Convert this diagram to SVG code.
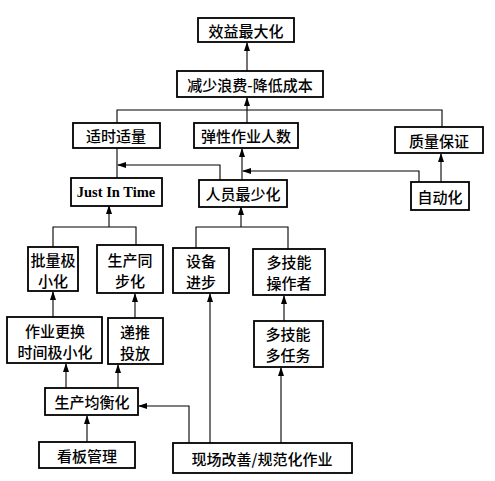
<svg xmlns="http://www.w3.org/2000/svg" width="495" height="481" viewBox="0 0 495 481">
<style>
.box{fill:#fff;stroke:#000;stroke-width:1.8}
.t{font-family:"Noto Sans CJK SC","Noto Sans",sans-serif;font-size:15px;font-weight:500;fill:#000;text-anchor:middle;dominant-baseline:central}
.e{font-family:"Liberation Serif",serif;font-size:14.5px;font-weight:bold;fill:#000;text-anchor:middle;dominant-baseline:central}
.c{fill:none;stroke:#000;stroke-width:1.1}
</style>
<defs>
<marker id="ah" markerUnits="userSpaceOnUse" markerWidth="9" markerHeight="6" refX="8" refY="3" orient="auto">
<path d="M0,0 L9,3 L0,6 z" fill="#000"/>
</marker>
</defs>
<rect width="495" height="481" fill="#fff"/>
<g id="connectors">
<path class="c" d="M247,71 L247,43" marker-end="url(#ah)"/>
<path class="c" d="M247,123 L247,98" marker-end="url(#ah)"/>
<path class="c" d="M117,123 L117,110 L442,110 L442,127"/>
<path class="c" d="M117,148 L117,178"/>
<path class="c" d="M220,180 L220,165 L118,165" marker-end="url(#ah)"/>
<path class="c" d="M242,180 L242,149" marker-end="url(#ah)"/>
<path class="c" d="M419,182 L419,171 L243,171" marker-end="url(#ah)"/>
<path class="c" d="M441,182 L441,154" marker-end="url(#ah)"/>
<path class="c" d="M53,247 L53,227 L136,227 L136,245"/>
<path class="c" d="M109,227 L109,206" marker-end="url(#ah)"/>
<path class="c" d="M196,248 L196,227 L288,227 L288,249"/>
<path class="c" d="M241,227 L241,207" marker-end="url(#ah)"/>
<path class="c" d="M53,317 L53,292" marker-end="url(#ah)"/>
<path class="c" d="M135,318 L135,294" marker-end="url(#ah)"/>
<path class="c" d="M284,321 L284,296" marker-end="url(#ah)"/>
<path class="c" d="M66,388 L66,364" marker-end="url(#ah)"/>
<path class="c" d="M118,388 L118,365" marker-end="url(#ah)"/>
<path class="c" d="M87,442 L87,416" marker-end="url(#ah)"/>
<path class="c" d="M189,443 L189,406 L139,406" marker-end="url(#ah)"/>
<path class="c" d="M210,443 L210,294" marker-end="url(#ah)"/>
<path class="c" d="M281,443 L281,368" marker-end="url(#ah)"/>
</g>
<g id="n1"><rect class="box" x="198" y="18" width="96" height="24"/><text class="t" x="246" y="30">效益最大化</text></g>
<g id="n2"><rect class="box" x="177" y="71" width="146" height="26"/><text class="t" x="250" y="84">减少浪费-降低成本</text></g>
<g id="n3"><rect class="box" x="73" y="123" width="87" height="25"/><text class="t" x="116" y="135.5">适时适量</text></g>
<g id="n4"><rect class="box" x="194" y="123" width="104" height="25"/><text class="t" x="246" y="135.5">弹性作业人数</text></g>
<g id="n5"><rect class="box" x="395" y="127" width="88" height="26"/><text class="t" x="439" y="140">质量保证</text></g>
<g id="n6"><rect class="box" x="71" y="178" width="91" height="28"/><text class="e" x="116" y="192">Just In Time</text></g>
<g id="n7"><rect class="box" x="199" y="180" width="88" height="27"/><text class="t" x="243" y="193.5">人员最少化</text></g>
<g id="n8"><rect class="box" x="411" y="182" width="58" height="28"/><text class="t" x="440" y="196">自动化</text></g>
<g id="n9"><rect class="box" x="28" y="247" width="50" height="44"/><text class="t" x="53" y="259">批量极</text><text class="t" x="53" y="280">小化</text></g>
<g id="n10"><rect class="box" x="97" y="245" width="66" height="48"/><text class="t" x="130" y="259">生产同</text><text class="t" x="130" y="280">步化</text></g>
<g id="n11"><rect class="box" x="173" y="248" width="56" height="45"/><text class="t" x="201" y="260">设备</text><text class="t" x="201" y="281">进步</text></g>
<g id="n12"><rect class="box" x="253" y="249" width="72" height="46"/><text class="t" x="289" y="261">多技能</text><text class="t" x="289" y="282">操作者</text></g>
<g id="n13"><rect class="box" x="7" y="317" width="95" height="46"/><text class="t" x="55" y="330">作业更换</text><text class="t" x="55" y="351">时间极小化</text></g>
<g id="n14"><rect class="box" x="108" y="318" width="55" height="46"/><text class="t" x="135" y="331">递推</text><text class="t" x="135" y="352">投放</text></g>
<g id="n15"><rect class="box" x="254" y="321" width="69" height="46"/><text class="t" x="288" y="333">多技能</text><text class="t" x="288" y="354">多任务</text></g>
<g id="n16"><rect class="box" x="45" y="388" width="93" height="27"/><text class="t" x="92" y="401.5">生产均衡化</text></g>
<g id="n17"><rect class="box" x="39" y="442" width="96" height="26"/><text class="t" x="87" y="455">看板管理</text></g>
<g id="n18"><rect class="box" x="173" y="443" width="179" height="30"/><text class="t" x="262" y="458">现场改善/规范化作业</text></g>
</svg>
